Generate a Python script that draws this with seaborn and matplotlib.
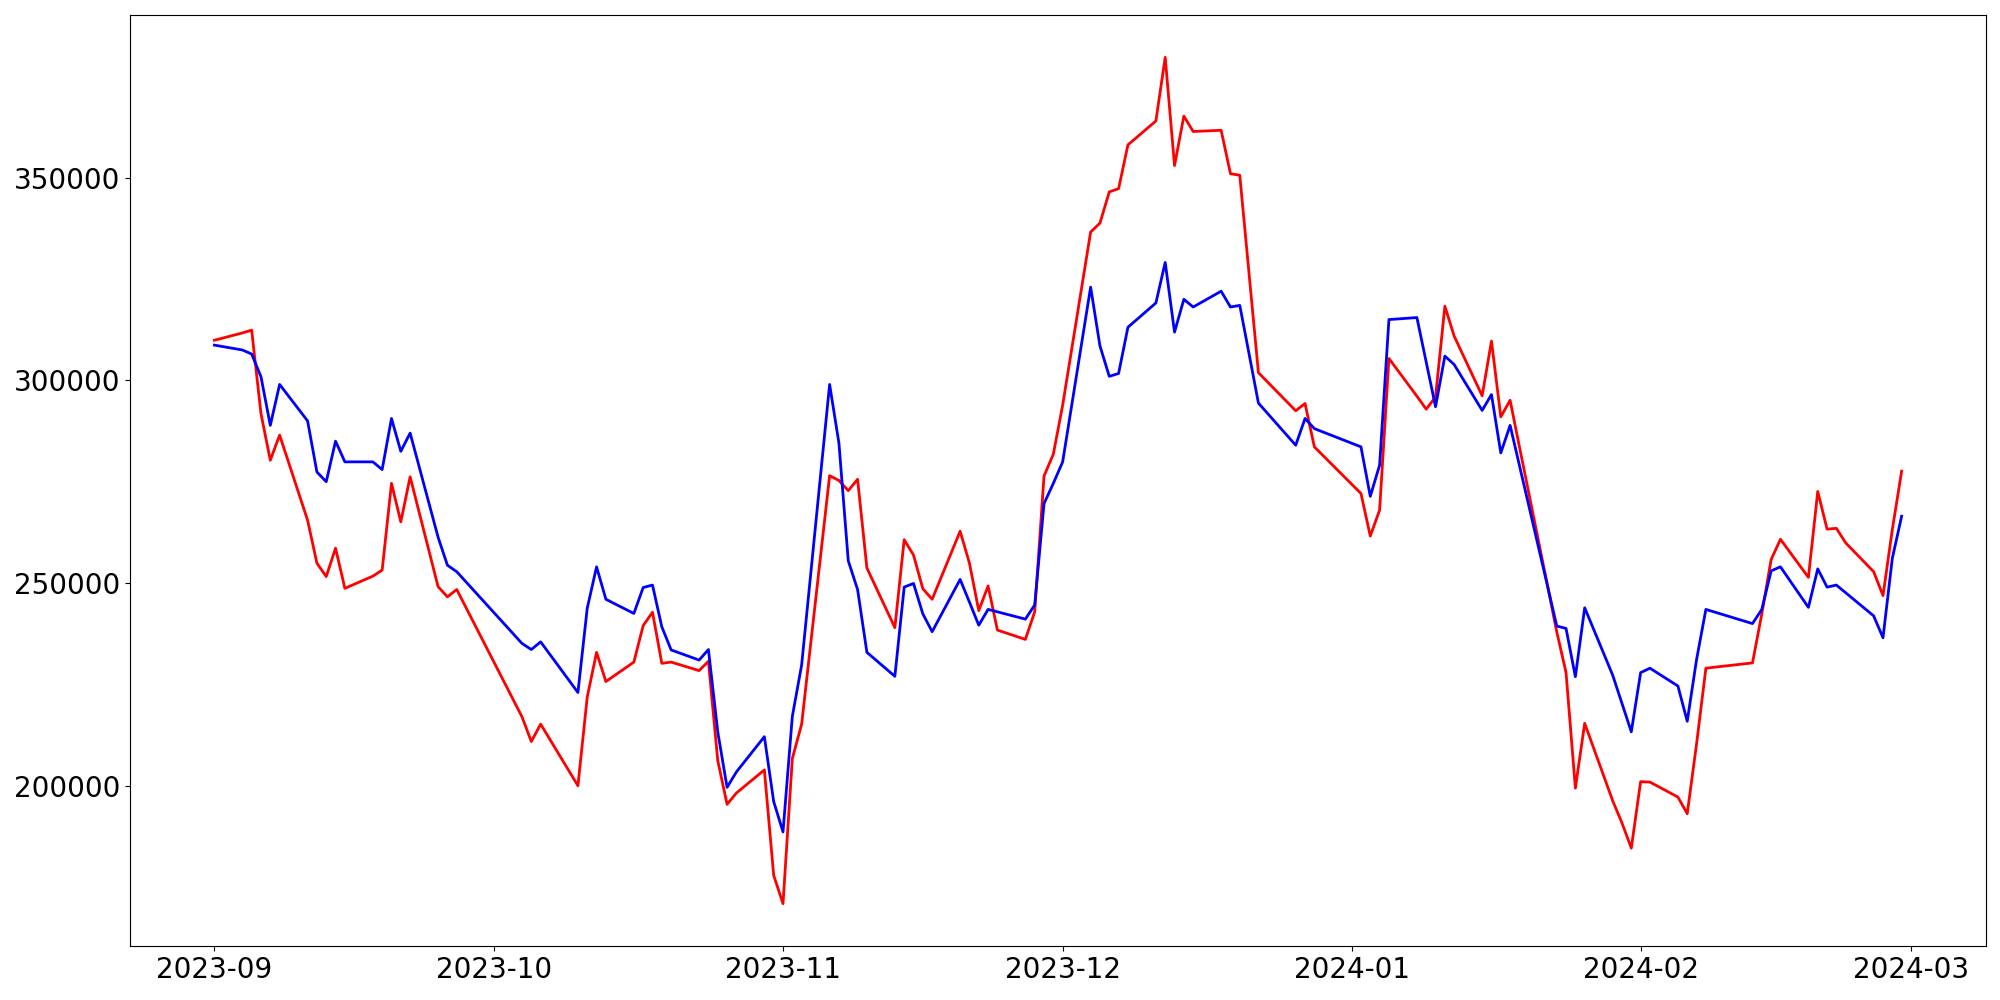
import pandas as pd
import numpy as np
import matplotlib
matplotlib.use("Agg")
import matplotlib.pyplot as plt
import seaborn as sns

# trading days per month (Korean market calendar, holidays skipped)
days_2023_09 = [1, 4, 5, 6, 7, 8, 11, 12, 13, 14, 15, 18, 19, 20, 21, 22, 25, 26, 27]
days_2023_10 = [4, 5, 6, 10, 11, 12, 13, 16, 17, 18, 19, 20, 23, 24, 25, 26, 27, 30, 31]
days_2023_11 = [1, 2, 3, 6, 7, 8, 9, 10, 13, 14, 15, 16, 17, 20, 21, 22, 23, 24, 27, 28, 29, 30]
days_2023_12 = [1, 4, 5, 6, 7, 8, 11, 12, 13, 14, 15, 18, 19, 20, 21, 22, 26, 27, 28]
days_2024_01 = [2, 3, 4, 5, 8, 9, 10, 11, 12, 15, 16, 17, 18, 19, 22, 23, 24, 25, 26, 29, 30, 31]
days_2024_02 = [1, 2, 5, 6, 7, 8, 13, 14, 15, 16, 19, 20, 21, 22, 23, 26, 27, 28, 29]

# red series
red_vals = [
    309900, 311700, 312400, 291800, 280300, 286500, 265500, 254900, 251600, 258600,
    248700, 251700, 253200, 274600, 265100, 276200, 249100, 246600, 248400,
    217000, 210900, 215200, 200000, 221900, 232900, 225700, 230500, 239500, 242800,
    230200, 230500, 228400, 230700, 206200, 195400, 198200, 203900, 177900,
    170900, 206700, 215200, 276500, 275300, 272800, 275600, 253700, 239000, 260700,
    256900, 248600, 246000, 262800, 254900, 243200, 249300, 238400, 236100, 242900,
    276400, 281800,
    293900, 336600, 338800, 346500, 347300, 358100, 364000, 379700, 353000, 365200,
    361400, 361700, 351000, 350600, 326200, 301900, 292500, 294300, 283600,
    272100, 261600, 268000, 305400, 296100, 292900, 295900, 318300, 310900, 296200,
    309700, 291000, 295100, 283600, 249500, 238000, 227900, 199400, 215400, 196300,
    190800, 184600,
    201000, 200900, 197200, 193100, 210300, 229000, 230300, 242400, 255800, 260800,
    251400, 272600, 263300, 263500, 259900, 252800, 246900, 263200, 277600,
]

# blue series
blue_vals = [
    308700, 307500, 306500, 300900, 288900, 299000, 290000, 277400, 275000, 285000,
    279900, 279900, 278000, 290600, 282500, 287000, 261300, 254400, 252800,
    235100, 233600, 235500, 223000, 243800, 254000, 246000, 242500, 248900, 249500,
    239200, 233500, 231000, 233600, 213300, 199600, 203400, 212100, 196100,
    188600, 217100, 229800, 299000, 284500, 255500, 248400, 232900, 227000, 249000,
    249900, 242400, 238000, 250900, 245300, 239600, 243500, 242900, 241100, 244600,
    269600, 274600,
    279900, 323000, 308500, 301000, 301700, 313100, 319100, 329100, 311900, 320000,
    318100, 322000, 318100, 318500, 306500, 294400, 284000, 290600, 288100,
    283600, 271400, 279100, 315000, 315500, 304500, 293500, 306000, 303900, 292600,
    296500, 282100, 288900, 279000, 249400, 239400, 238800, 226900, 243900, 227300,
    220300, 213300,
    227900, 229000, 224600, 215900, 231100, 243500, 240000, 243500, 253000, 254000,
    244000, 253500, 249000, 249500, 247600, 241900, 236500, 256100, 266500,
]

months = {"2023-09": days_2023_09, "2023-10": days_2023_10, "2023-11": days_2023_11,
          "2023-12": days_2023_12, "2024-01": days_2024_01, "2024-02": days_2024_02}
dates = pd.to_datetime([f"{m}-{d:02d}" for m, dl in months.items() for d in dl])

df = pd.DataFrame({"date": dates, "red": red_vals, "blue": blue_vals})

fig, ax = plt.subplots(figsize=(20, 10), dpi=100)
sns.lineplot(data=df, x="date", y="red", color="red", linewidth=2, ax=ax)
sns.lineplot(data=df, x="date", y="blue", color="blue", linewidth=2, ax=ax)
ax.set_xlabel("")
ax.set_ylabel("")
ax.tick_params(labelsize=20)
plt.subplots_adjust(left=0.065, right=0.993, top=0.985, bottom=0.054)
plt.savefig("out.png")
